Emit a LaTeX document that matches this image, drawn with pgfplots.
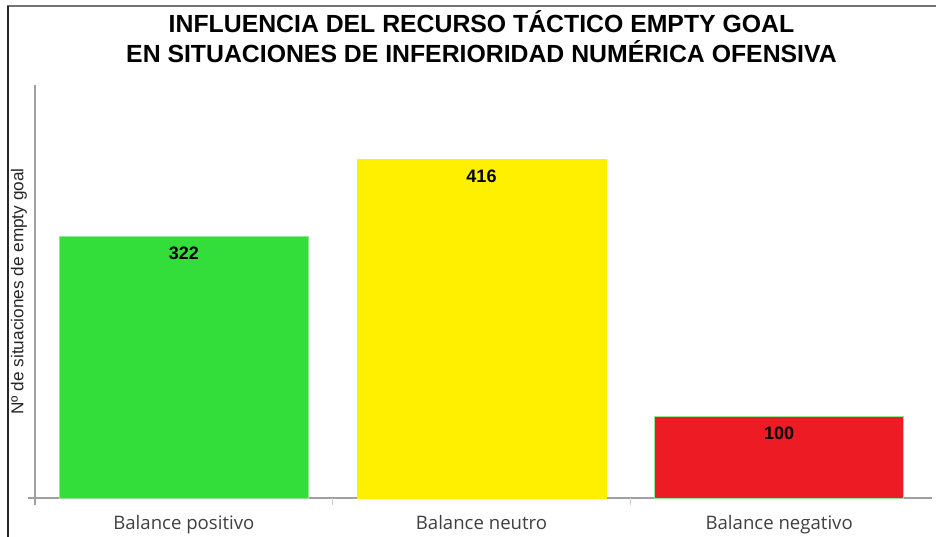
\documentclass[border=0pt]{standalone}
\usepackage{pgfplots}
\pgfplotsset{compat=1.18}
\usepackage{fontspec}
\setmainfont{Liberation Sans}
\newfontfamily\opensans{Open Sans}
\definecolor{barverde}{RGB}{51,221,58}
\definecolor{baramarillo}{RGB}{255,240,0}
\definecolor{barrojo}{RGB}{237,28,36}
\definecolor{borde}{RGB}{150,230,150}
\definecolor{ejes}{RGB}{160,160,160}
\begin{document}
\begin{tikzpicture}
\useasboundingbox (0pt,0pt) rectangle (936pt,537pt);
\draw[black!55, line width=1.6pt] (8pt,0pt) |- (936pt,531pt);
\draw[black!85, line width=1.3pt] (8pt,0pt) -- (8pt,531pt);
\begin{axis}[
    at={(35pt,39pt)}, anchor=south west,
    scale only axis,
    width=893pt, height=413pt,
    xmin=-0.5, xmax=2.5,
    ymin=0, ymax=508,
    axis x line=bottom, axis y line=left,
    axis line style={-, draw=ejes, line width=1.6pt, shorten <=-7pt},
    x axis line style={shorten >=-4pt},
    ytick=\empty,
    xtick={0,1,2},
    xticklabels={Balance positivo, Balance neutro, Balance negativo},
    major tick length=0pt,
    xticklabel style={font=\opensans\fontsize{18.6}{20}\selectfont, text=black!75, yshift=-13.5pt},
    extra x ticks={0.5,1.5},
    extra x tick labels={},
    extra x tick style={major tick length=7pt, tick align=outside, tick style={draw=ejes!50, line width=0.8pt}},
    ylabel={Nº de situaciones de empty goal},
    ylabel style={at={(axis description cs:-0.005,0.5)}, anchor=south, font=\fontsize{17.2}{18}\selectfont, text=black!85},
    title={INFLUENCIA DEL RECURSO TÁCTICO EMPTY GOAL\\EN SITUACIONES DE INFERIORIDAD NUMÉRICA OFENSIVA},
    title style={at={(axis description cs:0.5,1)}, anchor=south, yshift=13pt, align=center,
        font=\bfseries\fontsize{24.8}{30}\selectfont},
    ybar, bar width=249pt, bar shift=0pt,
    nodes near coords,
    /pgf/number format/assume math mode=true,
    every node near coord/.style={anchor=north, yshift=-10pt, inner sep=0pt, font=\bfseries\fontsize{18}{20}\selectfont, text=black},
    clip=false,
]
\addplot[fill=barverde, draw=borde, line width=0.6pt] coordinates {(0,322)};
\addplot[fill=baramarillo, draw=baramarillo, line width=0.6pt] coordinates {(1,416)};
\addplot[fill=barrojo, draw=borde, line width=0.6pt] coordinates {(2,100)};
\end{axis}
\end{tikzpicture}
\end{document}
